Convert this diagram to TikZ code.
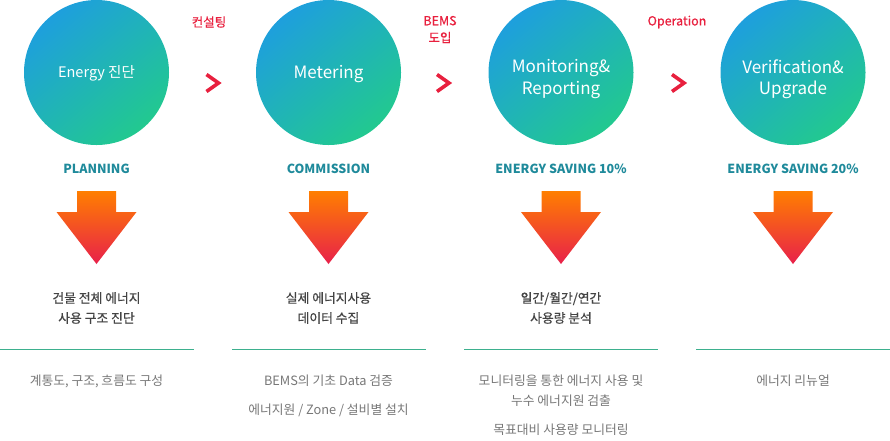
\documentclass[tikz,border=0pt]{standalone}
\usepackage{fontspec}
\setmainfont{Noto Sans CJK KR}
\newfontfamily\medfont{Noto Sans CJK KR}[FakeBold=0.6]
\definecolor{cblue}{HTML}{1E9FDD}
\definecolor{cgreen}{HTML}{22C98F}
\definecolor{redlab}{HTML}{E8203E}
\definecolor{teallab}{HTML}{1F8A9B}
\definecolor{arrtop}{HTML}{FF7F00}
\definecolor{arrbot}{HTML}{E8204A}
\definecolor{darktext}{HTML}{444444}
\definecolor{greytext}{HTML}{777777}
\definecolor{sepline}{HTML}{3DB08E}
\tikzset{
  stage/.style={circle, minimum size=145pt, inner sep=0pt, shading=axis,
    top color=cblue, bottom color=cgreen, shading angle=40},
  stagetext/.style={text=white, align=center, font=\fontsize{17}{21.5}\selectfont},
  redlabel/.style={text=redlab, align=center, font=\medfont\fontsize{12.5}{17}\selectfont},
  chev/.style={draw=redlab, line width=3.6pt},
  phase/.style={text=teallab, font=\bfseries\fontsize{12.5}{14}\selectfont},
  downarrow/.style={shading=axis, top color=arrtop, bottom color=arrbot},
  maintext/.style={text=darktext, align=center, font=\medfont\fontsize{12.8}{20}\selectfont},
  subtext/.style={text=greytext, align=center, font=\fontsize{12.8}{14}\selectfont},
  sep/.style={draw=sepline, line width=0.8pt}
}
\begin{document}
\begin{tikzpicture}[x=1pt,y=-1pt]
\useasboundingbox (0,0) rectangle (890,440);
% circles
\node[stage] (c1) at (96.5,72.5) {};
\node[stage] (c2) at (328.5,72.5) {};
\node[stage] (c3) at (561,72.5) {};
\node[stage] (c4) at (793,72.5) {};
\node[stagetext, font=\fontsize{14.5}{18}\selectfont] (c1t) at ([shift={(0,1)}]c1) {Energy 진단};
\node[stagetext] (c2t) at ([shift={(0,2)}]c2) {Metering};
\node[stagetext] (c3t) at ([shift={(0,6.5)}]c3) {Monitoring\&\\Reporting};
\node[stagetext] (c4t) at ([shift={(0,6.5)}]c4) {Verification\&\\Upgrade};
% red labels
\node[redlabel] (l1) at (209,22) {컨설팅};
\node[redlabel] (l2) at (440,29.5) {BEMS\\도입};
\node[redlabel] (l3) at (677,22) {Operation};
% chevrons
\foreach \n/\x in {k1/212.5, k2/443, k3/678}{
  \coordinate (\n) at (\x,83);
  \draw[chev] ([shift={(-6,-8.5)}]\n) -- ([shift={(6,0)}]\n) -- ([shift={(-6,8.5)}]\n);
}
% phase labels
\node[phase] (p1) at (96.5,168.5) {PLANNING};
\node[phase] (p2) at (328.5,168.5) {COMMISSION};
\node[phase] (p3) at (561,168.5) {ENERGY SAVING 10\%};
\node[phase] (p4) at (793,168.5) {ENERGY SAVING 20\%};
% down arrows
\foreach \n/\x in {a1/96.5, a2/328.5, a3/561, a4/793}{
  \coordinate (\n) at (\x,191);
  \shade[downarrow] ([shift={(-19.5,0)}]\n) -- ([shift={(19.5,0)}]\n)
    -- ([shift={(19.5,21)}]\n) -- ([shift={(40,21)}]\n) -- ([shift={(0,73)}]\n)
    -- ([shift={(-40,21)}]\n) -- ([shift={(-19.5,21)}]\n) -- cycle;
}
% main texts
\node[maintext] (m1) at (96.5,308) {건물 전체 에너지\\사용 구조 진단};
\node[maintext] (m2) at (328.5,308) {실제 에너지사용\\데이터 수집};
\node[maintext] (m3) at (561,308) {일간/월간/연간\\사용량 분석};
% separators
\coordinate (s1a) at (0,349);   \coordinate (s1b) at (194,349);
\coordinate (s2a) at (232,349); \coordinate (s2b) at (426,349);
\coordinate (s3a) at (464,349); \coordinate (s3b) at (658,349);
\coordinate (s4a) at (696,349); \coordinate (s4b) at (890,349);
\draw[sep] (s1a) -- (s1b);
\draw[sep] (s2a) -- (s2b);
\draw[sep] (s3a) -- (s3b);
\draw[sep] (s4a) -- (s4b);
% sub texts
\node[subtext] (t1) at (96.5,381) {계통도, 구조, 흐름도 구성};
\node[subtext] (t2) at (328.5,381) {BEMS의 기초 Data 검증};
\node[subtext] (t3) at (328.5,410) {에너지원 / Zone / 설비별 설치};
\node[subtext] (t4) at (561,381) {모니터링을 통한 에너지 사용 및};
\node[subtext] (t5) at (561,400.5) {누수 에너지원 검출};
\node[subtext] (t6) at (561,430) {목표대비 사용량 모니터링};
\node[subtext] (t7) at (793,381) {에너지 리뉴얼};
\end{tikzpicture}
\end{document}
